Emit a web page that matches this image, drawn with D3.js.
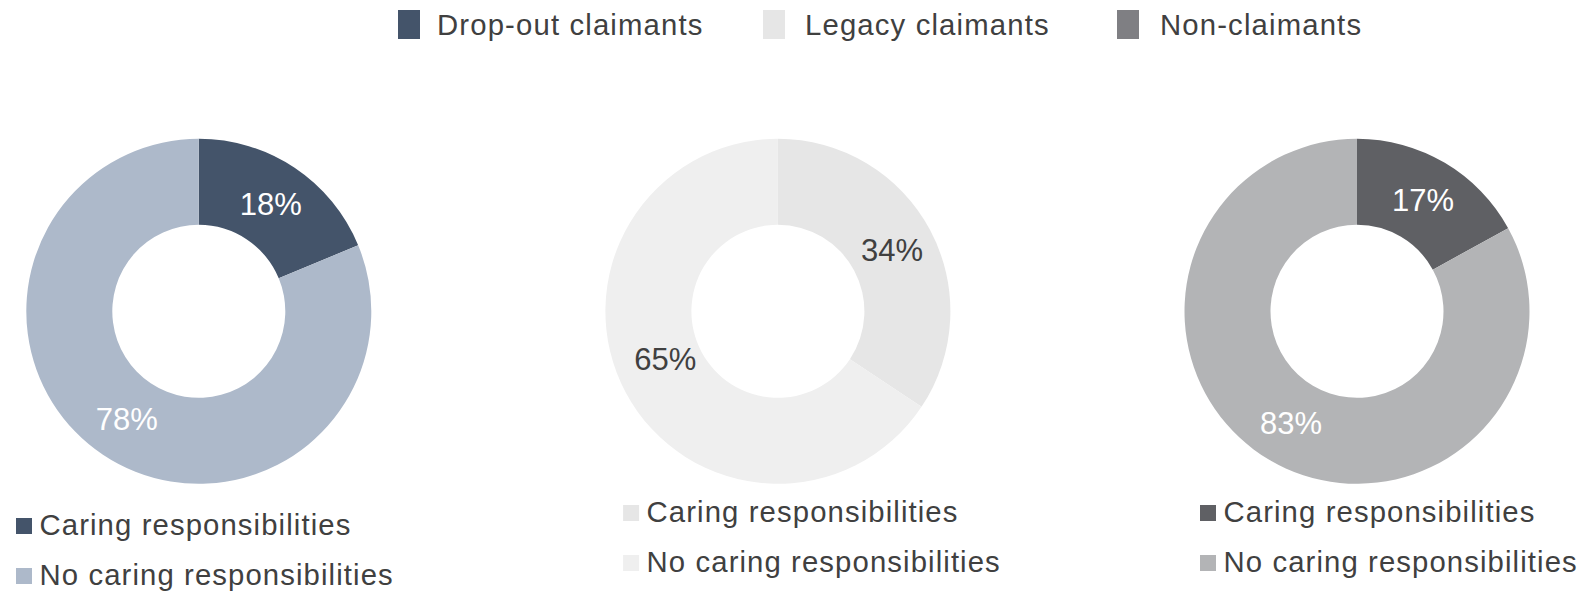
<!DOCTYPE html>
<html>
<head>
<meta charset="utf-8">
<script src="https://cdn.jsdelivr.net/npm/d3@7"></script>
<style>
  html, body { margin: 0; padding: 0; background: #ffffff; }
  svg { display: block; font-family: "Liberation Sans", Arial, sans-serif; }
</style>
</head>
<body>
<svg id="chart" width="1583" height="593"></svg>
<script>
// Claimant groups, one donut each
const groups = ["Drop-out claimants", "Legacy claimants", "Non-claimants"];
// Share with / without caring responsibilities (%)
const caring = [18, 34, 17];
const noCaring = [78, 65, 83];
const categories = ["Caring responsibilities", "No caring responsibilities"];

// Colours per group: [caring, no caring], plus the swatch in the top legend
const groupColors = [
  ["#44546A", "#ADB9CA"],
  ["#E6E6E6", "#EFEFEF"],
  ["#5F6064", "#B3B4B6"]
];
const groupLegendColors = ["#44546A", "#E6E6E6", "#7F7F83"];
const labelColors = ["#FFFFFF", "#404040", "#FFFFFF"];
const textColor = "#404040";

const svg = d3.select("#chart");

// Donut centres laid out along x
const x = d3.scalePoint().domain(groups).range([198.8, 1357]);
const cy = 311.3;
const outerR = 172.5, innerR = 86.5;

const pie = d3.pie().sort(null).value(d => d.value);
const arc = d3.arc().innerRadius(innerR).outerRadius(outerR);

// Bottom legend offsets per donut (relative to centre x) and baseline of first row
const legendLayout = [
  { sx: 16 - 198.8, base: 535 },
  { sx: 623 - 777.8, base: 522 },
  { sx: 1200 - 1357, base: 522 }
];

// Small hand nudges for value labels that sit off their slice centroid
const labelNudge = [[[0, 0], [0, 0]], [[0, 0], [1.5, -14]], [[0, 0], [0, 0]]];

groups.forEach((g, gi) => {
  const values = [caring[gi], noCaring[gi]];
  const data = categories.map((c, ci) => ({ cat: c, value: values[ci] }));
  const arcs = pie(data);

  const gEl = svg.append("g")
    .attr("transform", `translate(${x(g)},${cy})`);

  gEl.selectAll("path")
    .data(arcs)
    .join("path")
    .attr("d", arc)
    .attr("fill", (d, i) => groupColors[gi][i]);

  gEl.selectAll("text.value")
    .data(arcs)
    .join("text")
    .attr("class", "value")
    .attr("transform", (d, i) => {
      const [cx0, cy0] = arc.centroid(d);
      const [nx, ny] = labelNudge[gi][i];
      return `translate(${cx0 + nx},${cy0 + ny})`;
    })
    .attr("text-anchor", "middle")
    .attr("dy", "0.36em")
    .attr("font-size", 31)
    .attr("fill", labelColors[gi])
    .text(d => d.data.value + "%");

  // Per-donut legend below
  const lay = legendLayout[gi];
  const leg = svg.append("g")
    .attr("transform", `translate(${x(g) + lay.sx},${lay.base})`);
  const rows = leg.selectAll("g")
    .data(categories)
    .join("g")
    .attr("transform", (d, i) => `translate(0,${i * 50})`);
  rows.append("rect")
    .attr("x", 0).attr("y", -17)
    .attr("width", 16).attr("height", 16)
    .attr("fill", (d, i) => groupColors[gi][i]);
  rows.append("text")
    .attr("x", 23.5)
    .attr("y", 0)
    .attr("font-size", 29.3)
    .attr("letter-spacing", 1.1)
    .attr("fill", textColor)
    .text(d => d);
});

// Top legend of claimant groups
const topSwatchX = [398, 763, 1117];
const topTextX = [437, 805, 1160];
const topLegend = svg.append("g");
const items = topLegend.selectAll("g")
  .data(groups)
  .join("g");
items.append("rect")
  .attr("x", (d, i) => topSwatchX[i]).attr("y", 10)
  .attr("width", 22).attr("height", 29)
  .attr("fill", (d, i) => groupLegendColors[i]);
items.append("text")
  .attr("x", (d, i) => topTextX[i])
  .attr("y", 35)
  .attr("font-size", 29.3)
  .attr("letter-spacing", 1.15)
  .attr("fill", textColor)
  .text(d => d);
</script>
</body>
</html>
